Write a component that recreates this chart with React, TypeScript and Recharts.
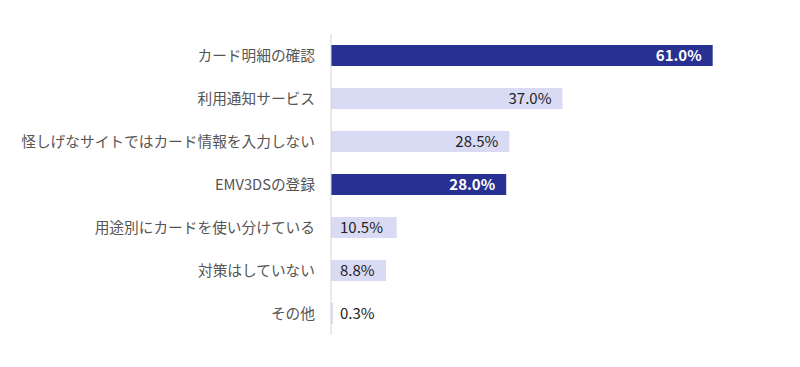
import React from "react";
import { BarChart, Bar, XAxis, YAxis, Cell, LabelList } from "recharts";

const categories = [
  "カード明細の確認",
  "利用通知サービス",
  "怪しげなサイトではカード情報を入力しない",
  "EMV3DSの登録",
  "用途別にカードを使い分けている",
  "対策はしていない",
  "その他",
];
const values = [61.0, 37.0, 28.5, 28.0, 10.5, 8.8, 0.3];
const highlighted = [true, false, false, true, false, false, false];

const data = categories.map((name, i) => ({ name, value: values[i], hi: highlighted[i] }));

const DARK = "#283191";
const LIGHT = "#d9dbf4";
const FONT = "'Noto Sans CJK JP', 'Noto Sans', sans-serif";

const Tick = (props: any) => {
  const { x, y, payload } = props;
  return (
    <text x={x - 8} y={y} dy={5} textAnchor="end" fill="#555" fontSize={14.7} fontFamily={FONT}>
      {payload.value}
    </text>
  );
};

const ValueLabel = (props: any) => {
  const { x, y, width, height, value, index } = props;
  const hi = highlighted[index];
  const big = value >= 20;
  const tx = big ? x + width - 11 : x + 9;
  return (
    <text
      x={tx}
      y={y + height / 2}
      dy={5}
      textAnchor={big ? "end" : "start"}
      fill={hi ? "#ffffff" : "#222"}
      fontWeight={hi ? 700 : 400}
      fontSize={15}
      fontFamily={FONT}
    >
      {value.toFixed(1)}%
    </text>
  );
};

export default function App() {
  return (
    <div style={{ position: "absolute", left: 0, top: 0, background: "#fff" }}>
      <BarChart
        width={800}
        height={367}
        data={data}
        layout="vertical"
        margin={{ top: 34, right: 31, bottom: 32, left: 0 }}
      >
        <XAxis type="number" domain={[0, 70]} hide />
        <YAxis
          type="category"
          dataKey="name"
          width={331}
          axisLine={{ stroke: "#d4d4d4" }}
          tickLine={false}
          tick={<Tick />}
          interval={0}
        />
        <Bar dataKey="value" barSize={21} isAnimationActive={false}>
          {data.map((d, i) => (
            <Cell key={i} fill={d.hi ? DARK : LIGHT} />
          ))}
          <LabelList dataKey="value" content={<ValueLabel />} />
        </Bar>
      </BarChart>
    </div>
  );
}
